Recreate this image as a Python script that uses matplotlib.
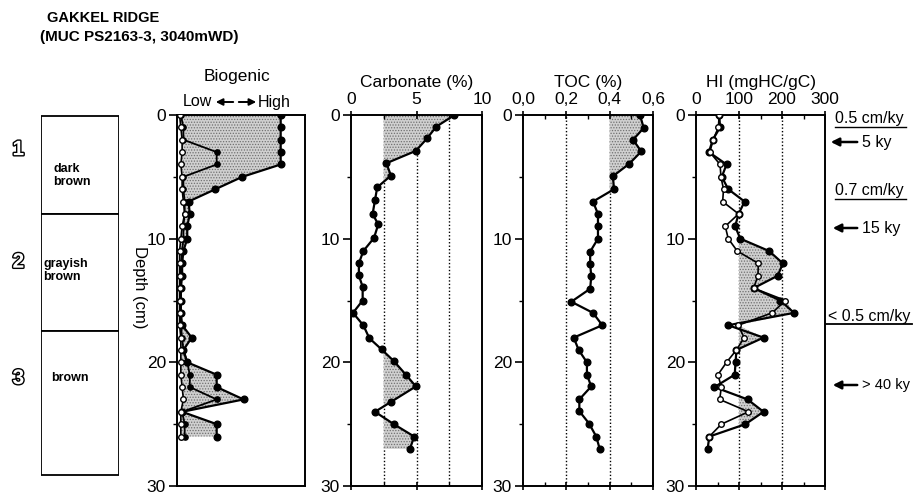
import numpy as np
import matplotlib
matplotlib.use('Agg')
import matplotlib.pyplot as plt
import matplotlib.patheffects as pe
from matplotlib.patches import Rectangle, FancyArrowPatch

plt.rcParams['font.family'] = ['Liberation Sans', 'DejaVu Sans']
plt.rcParams['hatch.linewidth'] = 0.6

# ---- data ----
bio_depth = [0, 1, 2, 3, 4, 5, 6, 7, 8, 9, 10, 11, 12, 13, 14, 15, 16, 17, 18, 19, 20, 21, 22, 23, 24, 25, 26]
bio_high = [0.81, 0.81, 0.81, 0.81, 0.81, 0.51, 0.30, 0.09, 0.10, 0.08, 0.08, 0.05, 0.04, 0.04, 0.03, 0.03,
            0.03, 0.04, 0.115, 0.05, 0.08, 0.31, 0.31, 0.52, 0.04, 0.31, 0.31]
bio_mid = [0.03, 0.05, 0.05, 0.31, 0.31, 0.05, 0.05, 0.06, 0.06, 0.05, 0.05, 0.04, 0.03, 0.03, 0.03, 0.03,
           0.03, 0.03, 0.04, 0.05, 0.08, 0.10, 0.10, 0.31, 0.04, 0.06, 0.06]
bio_low = [0.02, 0.03, 0.04, 0.04, 0.03, 0.04, 0.04, 0.05, 0.06, 0.04, 0.03, 0.02, 0.02, 0.02, 0.02, 0.02,
           0.02, 0.02, 0.03, 0.03, 0.03, 0.03, 0.04, 0.05, 0.03, 0.03, 0.03]

carb_depth = [0, 0.95, 1.9, 2.9, 3.9, 4.9, 5.85, 6.9, 8.0, 8.85, 9.95, 11.0, 12.0, 12.97, 13.9, 15.0, 16.0,
              17.0, 18.05, 18.95, 19.9, 21.0, 21.95, 23.2, 24.0, 25.0, 26.0, 27.0]
carb_val = [7.9, 6.5, 5.8, 4.95, 2.7, 3.05, 2.0, 1.83, 1.65, 2.08, 1.75, 0.94, 0.6, 0.6, 0.89, 0.89, 0.15,
            0.94, 1.4, 2.33, 3.27, 4.19, 4.95, 3.05, 1.83, 3.27, 4.82, 4.5]

toc_depth = [0, 1.05, 2.0, 2.95, 3.95, 4.95, 6.0, 7.0, 8.0, 8.95, 10.0, 11.05, 12.05, 13.05, 14.05, 15.1,
             16.0, 17.0, 18.0, 19.0, 20.0, 21.0, 21.95, 23.0, 23.95, 24.95, 26.0, 27.0]
toc_val = [0.54, 0.557, 0.508, 0.546, 0.49, 0.415, 0.42, 0.323, 0.346, 0.346, 0.346, 0.31, 0.31, 0.315, 0.31,
           0.223, 0.323, 0.366, 0.234, 0.257, 0.295, 0.295, 0.315, 0.26, 0.26, 0.305, 0.338, 0.354]

hi_depth = [0, 1, 2, 3, 4, 5, 6, 7, 8, 9, 10, 11, 12, 13, 14, 15, 16, 17, 18, 19, 20, 21, 22, 23, 24, 25, 26, 27]
hi_filled = [54, 56, 39, 30, 71, 60, 75, 113, 99, 91, 103, 170, 202, 190, 134, 196, 228, 75, 157, 94, 92, 90,
             43, 120, 157, 115, 31, 27]
hi_open = [54, 52, 40, 32, 56, 58, 64, 62, 99, 68, 75, 96, 145, 144, 134, 208, 177, 98, 112, 94, 71, 51, 59,
           55, 122, 59, 31]

litho_bounds = [0.1, 8.0, 17.5, 29.1]
litho_units = ['1', '2', '3']
litho_names = ['dark\nbrown', 'grayish\nbrown', 'brown']

carb_ticks = [0, 5, 10]
toc_ticks = [0.0, 0.2, 0.4, 0.6]
toc_ticklabels = ['0,0', '0,2', '0,4', '0,6']
hi_ticks = [0, 100, 200, 300]
depth_ticks = [0, 10, 20, 30]

# ---- layout (pixels of a 916x498 canvas) ----
W, H = 916, 498
fig = plt.figure(figsize=(W / 100, H / 100), dpi=100)
top_px, bot_px = 115, 486
FS = 12.5


def add_ax(x0, w):
    return fig.add_axes([x0 / W, 1 - bot_px / H, w / W, (bot_px - top_px) / H])


ax_lit = add_ax(41, 78)
ax_bio = add_ax(177, 128)
ax_carb = add_ax(351, 131)
ax_toc = add_ax(523, 130)
ax_hi = add_ax(696, 129)

shade = dict(facecolor='#d0d0d0', hatch='......', edgecolor='#707070', linewidth=0)
line_kw = dict(color='black', lw=1.6, marker='o', ms=4.8, mfc='black', mec='black', zorder=3)
open_kw = dict(color='black', lw=1.2, marker='o', ms=4.0, mfc='white', mec='black', mew=1.0, zorder=4)


def style_depth(ax):
    ax.set_ylim(30, 0)
    ax.set_yticks(depth_ticks)
    ax.set_yticks([5, 15, 25], minor=True)
    ax.tick_params(axis='y', which='major', direction='out', length=6, width=1.2, labelsize=FS, pad=2,
                   right=False)
    ax.tick_params(axis='y', which='minor', direction='out', length=3, width=1, right=False)
    for s in ax.spines.values():
        s.set_linewidth(1.4)


def style_top(ax, ticks, minor, labels=None):
    ax.xaxis.tick_top()
    ax.set_xticks(ticks)
    if labels is not None:
        ax.set_xticklabels(labels)
    ax.set_xticks(minor, minor=True)
    ax.tick_params(axis='x', which='major', direction='inout', length=6, width=1.2, labelsize=FS, pad=3,
                   top=True, bottom=True)
    ax.tick_params(axis='x', which='minor', direction='in', length=3, width=1, top=True, bottom=True)
    ax.set_xlim(ticks[0], ticks[-1])


# lithology column
ax_lit.set_xlim(0, 1)
ax_lit.set_ylim(30, 0)
ax_lit.axis('off')
for i in range(3):
    ax_lit.add_patch(Rectangle((0, litho_bounds[i]), 1, litho_bounds[i + 1] - litho_bounds[i],
                               facecolor='white', edgecolor='black', lw=1.3))
num_y = [2.8, 11.9, 21.3]
name_x = [0.16, 0.03, 0.13]
name_y = [4.9, 12.6, 21.3]
for i in range(3):
    ax_lit.text(-0.29, num_y[i], litho_units[i], fontsize=15, fontweight='bold', color='white',
                ha='center', va='center', clip_on=False,
                path_effects=[pe.withStroke(linewidth=2, foreground='black')])
    ax_lit.text(name_x[i], name_y[i], litho_names[i], fontsize=9, fontweight='bold', ha='left',
                va='center', linespacing=1.15)

# biogenic
style_depth(ax_bio)
ax_bio.set_xlim(0, 1)
ax_bio.set_xticks([])
ax_bio.fill_betweenx(bio_depth, bio_low, bio_high, **shade)
ax_bio.plot(bio_high, bio_depth, **line_kw)
ax_bio.plot(bio_mid, bio_depth, color='black', lw=1.3, marker='o', ms=3.8, mfc='black', zorder=3)
ax_bio.plot(bio_low, bio_depth, **open_kw)
fig.text(237 / W, 1 - 76 / H, 'Biogenic', ha='center', va='center', fontsize=FS)
fig.text(183 / W, 1 - 102 / H, 'Low', ha='left', va='center', fontsize=11.5)
fig.text(291 / W, 1 - 102 / H, 'High', ha='right', va='center', fontsize=11.5)
for x_end in (213, 259):
    fig.add_artist(FancyArrowPatch(
        (236 / W, 1 - 102 / H), (x_end / W, 1 - 102 / H), transform=fig.transFigure,
        arrowstyle='-|>', mutation_scale=10, color='black', lw=1.4))
fig.text(139 / W, 1 - 287 / H, 'Depth (cm)', rotation=270, ha='center', va='center', fontsize=12)

# carbonate
style_depth(ax_carb)
style_top(ax_carb, carb_ticks, [2.5, 7.5])
for g in (2.5, 5, 7.5):
    ax_carb.axvline(g, color='black', ls=(0, (1, 1.5)), lw=1.0, zorder=1)
cd = np.array(carb_depth)
cv = np.array(carb_val)
ax_carb.fill_betweenx(cd, 2.5, cv, where=cv > 2.5, interpolate=True, **shade)
ax_carb.plot(cv, cd, **line_kw)
ax_carb.set_xlabel('Carbonate (%)', fontsize=FS, labelpad=3)
ax_carb.xaxis.set_label_position('top')

# TOC
style_depth(ax_toc)
style_top(ax_toc, toc_ticks, [0.1, 0.3, 0.5], toc_ticklabels)
for g in (0.2, 0.4):
    ax_toc.axvline(g, color='black', ls=(0, (1, 1.5)), lw=1.0, zorder=1)
td = np.array(toc_depth)
tv = np.array(toc_val)
ax_toc.fill_betweenx(td, 0.4, tv, where=tv > 0.4, interpolate=True, **shade)
ax_toc.plot(tv, td, **line_kw)
ax_toc.set_xlabel('TOC (%)', fontsize=FS, labelpad=3)
ax_toc.xaxis.set_label_position('top')

# HI
style_depth(ax_hi)
style_top(ax_hi, hi_ticks, [50, 150, 250])
for g in (100, 200):
    ax_hi.axvline(g, color='black', ls=(0, (1, 1.5)), lw=1.0, zorder=1)
hd = np.array(hi_depth)
hf = np.array(hi_filled)
ho = np.array(hi_open)
env = np.maximum(hf[:len(ho)], ho)
ax_hi.fill_betweenx(hd[:len(ho)], 100, env, where=(env > 100) & (hd[:len(ho)] >= 10), interpolate=True, **shade)
ax_hi.plot(hf, hd, **line_kw)
ax_hi.plot(ho, hd[:len(ho)], **open_kw)
ax_hi.set_xlabel('HI (mgHC/gC)', fontsize=FS, labelpad=3)
ax_hi.xaxis.set_label_position('top')


# sedimentation-rate notes right of the HI panel
def px_x(px):
    return (px - 696) / 129 * 300


def px_d(py):
    return (py - top_px) / (bot_px - top_px) * 30


rates = [('0.5 cm/ky', 835, 119), ('0.7 cm/ky', 835, 191)]
for txt, x0, y0 in rates:
    ax_hi.text(px_x(x0), px_d(y0), txt, fontsize=11.5, ha='left', va='center', clip_on=False)
    ax_hi.plot([px_x(x0), px_x(906)], [px_d(y0 + 8)] * 2, color='black', lw=1.0, clip_on=False)
ax_hi.text(px_x(828), px_d(316), '< 0.5 cm/ky', fontsize=11.5, ha='left', va='center', clip_on=False)
ax_hi.plot([px_x(826), px_x(912)], [px_d(324)] * 2, color='black', lw=1.3, clip_on=False)

ages = [('5 ky', 142, 828, 860, 11.5), ('15 ky', 228, 830, 860, 11.5), ('> 40 ky', 385, 830, 860, 10.5)]
for txt, y0, xa, xb, fs in ages:
    ax_hi.annotate('', xy=(px_x(xa), px_d(y0)), xytext=(px_x(xb), px_d(y0)), annotation_clip=False,
                   arrowprops=dict(arrowstyle='-|>', color='black', lw=1.8, mutation_scale=12))
    ax_hi.text(px_x(xb + 2), px_d(y0), txt, fontsize=fs, ha='left', va='center', clip_on=False)

# title
fig.text(47 / W, 1 - 18 / H, 'GAKKEL RIDGE', fontsize=10.5, fontweight='bold', ha='left', va='center')
fig.text(40 / W, 1 - 37 / H, '(MUC PS2163-3, 3040mWD)', fontsize=11, fontweight='bold', ha='left',
         va='center')

fig.savefig('out.png', dpi=100)
